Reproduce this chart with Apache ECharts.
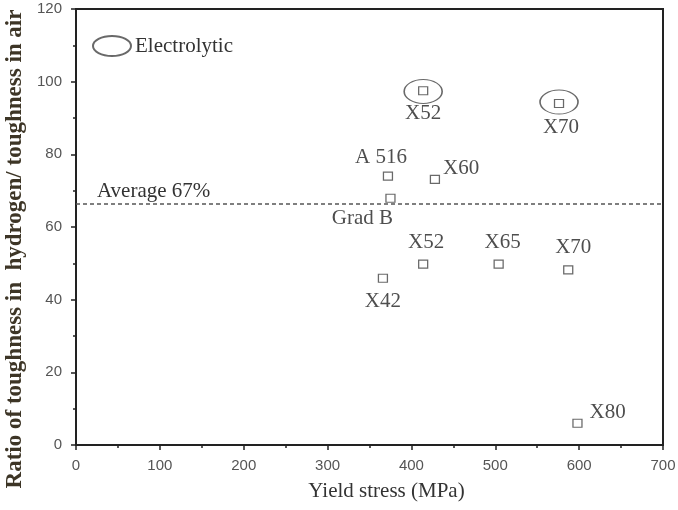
<!DOCTYPE html>
<html>
<head>
<meta charset="utf-8">
<script src="https://cdn.jsdelivr.net/npm/echarts@6/dist/echarts.min.js"></script>
<style>html,body{margin:0;padding:0;background:#fff;}#c{width:678px;height:510px;}</style>
</head>
<body>
<div id="c"></div>
<script>
// ---- data ----
var grades = ['X52', 'X70', 'A 516', 'X60', 'Grad B', 'X52', 'X65', 'X70', 'X42', 'X80'];
var yieldStress = [414, 576, 372, 428, 375, 414, 504, 587, 366, 598];
var toughnessRatio = [97.5, 94.0, 74.0, 73.1, 67.9, 49.8, 49.8, 48.2, 45.9, 6.0];
var electrolyticStress = [414, 576];
var electrolyticRatio = [97.3, 94.4];
var averageRatio = 66.4;
var averageLabel = 'Average 67%';
var xAxisName = 'Yield stress (MPa)';
var yAxisName = 'Ratio of toughness in  hydrogen/ toughness in air';
var legendName = 'Electrolytic';

// ---- label placement (style, not data) ----
var labelPlacement = [
  {position: 'bottom', distance: 8, offset: [0, 0]},
  {position: 'bottom', distance: 9, offset: [2, 0]},
  {position: 'top', distance: 4, offset: [-7, 0]},
  {position: 'right', distance: 3, offset: [0, -11]},
  {position: 'bottom', distance: 5, offset: [-28, 0]},
  {position: 'top', distance: 7, offset: [3, 0]},
  {position: 'top', distance: 7, offset: [4, 0]},
  {position: 'top', distance: 7, offset: [5, 0]},
  {position: 'bottom', distance: 8, offset: [0, 0]},
  {position: 'right', distance: 7, offset: [0, -11]}
];

var serif = '"Liberation Serif", "Times New Roman", serif';
var sans = '"Liberation Sans", Arial, sans-serif';

var points = grades.map(function (g, i) {
  var p = labelPlacement[i];
  return {
    name: g,
    value: [yieldStress[i], toughnessRatio[i]],
    label: {show: true, formatter: g, position: p.position, distance: p.distance, offset: p.offset}
  };
});
var ellipses = electrolyticStress.map(function (x, i) { return [x, electrolyticRatio[i]]; });

var chart = echarts.init(document.getElementById('c'), null, {renderer: 'canvas'});
chart.setOption({
  animation: false,
  backgroundColor: '#fff',
  grid: {left: 76, right: 15, top: 9, bottom: 65, containLabel: false, outerBoundsMode: 'none',
         show: true, borderColor: '#222', borderWidth: 2, backgroundColor: 'transparent'},
  legend: {
    left: 87, top: 30,
    itemWidth: 38, itemHeight: 20, itemGap: 6,
    data: [{name: legendName, icon: 'path://M0,10 A19,10 0 1,1 38,10 A19,10 0 1,1 0,10 Z'}],
    textStyle: {fontFamily: serif, fontSize: 21, color: '#333', padding: [0, 0, 0, -1]}
  },
  xAxis: {
    type: 'value', min: 0, max: 700, interval: 100,
    name: xAxisName, nameLocation: 'middle', nameGap: 36,
    nameTextStyle: {fontFamily: serif, fontSize: 21, color: '#333', padding: [0, 0, 0, 34]},
    axisLine: {show: true, lineStyle: {color: '#222', width: 2}},
    axisTick: {show: true, inside: false, length: 5, lineStyle: {color: '#222', width: 1.5}},
    minorTick: {show: true, splitNumber: 2, length: 3, lineStyle: {color: '#222', width: 1.5}},
    axisLabel: {fontFamily: sans, fontSize: 15, color: '#555', margin: 13},
    splitLine: {show: false}
  },
  yAxis: {
    type: 'value', min: 0, max: 120, interval: 20,
    name: yAxisName, nameLocation: 'middle', nameGap: 46, nameRotate: 90,
    nameTextStyle: {fontFamily: serif, fontSize: 23, fontWeight: 'bold', color: '#3d3526', padding: [0, 44, 0, 0]},
    axisLine: {show: true, lineStyle: {color: '#222', width: 2}},
    axisTick: {show: true, inside: false, length: 5, lineStyle: {color: '#222', width: 1.5}},
    minorTick: {show: true, splitNumber: 2, length: 3, lineStyle: {color: '#222', width: 1.5}},
    axisLabel: {fontFamily: sans, fontSize: 15, color: '#555', margin: 14},
    splitLine: {show: false}
  },
  series: [
    {
      name: 'Steels', type: 'scatter', symbol: 'rect', symbolSize: [9, 8],
      itemStyle: {color: '#fff', borderColor: '#444', borderWidth: 1.2},
      label: {fontFamily: serif, fontSize: 21, color: '#222'},
      data: points,
      markLine: {
        silent: true, symbol: ['none', 'none'],
        lineStyle: {type: [4, 3], color: '#555', width: 1.5},
        label: {show: true, position: 'insideStartTop', formatter: averageLabel, distance: [21, 2],
                fontFamily: serif, fontSize: 21, color: '#333'},
        data: [{yAxis: averageRatio}]
      },
      z: 3
    },
    {
      name: legendName, type: 'scatter', symbol: 'circle', symbolSize: [38, 24],
      itemStyle: {color: 'rgba(0,0,0,0)', borderColor: '#444', borderWidth: 1.3},
      data: ellipses,
      z: 2
    }
  ]
});
</script>
</body>
</html>
